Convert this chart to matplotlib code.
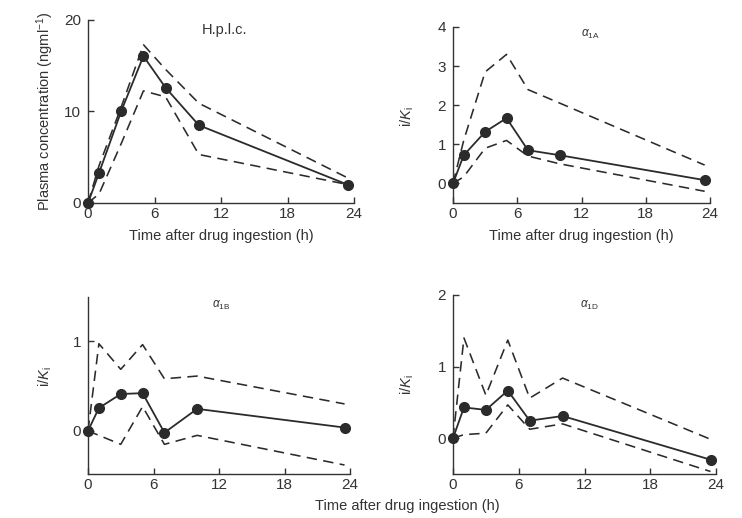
import matplotlib
matplotlib.use("Agg")
import matplotlib.pyplot as plt

plt.rcParams['font.family'] = ['Liberation Sans', 'DejaVu Sans']
plt.rcParams['mathtext.fontset'] = 'custom'
plt.rcParams['mathtext.rm'] = 'Liberation Sans'
plt.rcParams['mathtext.it'] = 'Liberation Sans:italic'

time_h = [0, 1, 3, 5, 7, 10, 23.5]

hplc_mean = [0, 3.3, 10.05, 16.05, 12.6, 8.5, 1.97]
hplc_upper = [0, 4.1, 10.5, 17.3, 14.6, 10.9, 2.7]
hplc_lower = [0, 1.0, 6.5, 12.25, 11.6, 5.3, 2.0]

a1a_mean = [0, 0.72, 1.32, 1.67, 0.85, 0.72, 0.085]
a1a_upper = [0, 1.1, 2.85, 3.3, 2.4, 2.05, 0.47]
a1a_lower = [0, 0.17, 0.9, 1.1, 0.7, 0.5, -0.2]

a1b_mean = [0, 0.255, 0.41, 0.42, -0.02, 0.245, 0.037]
a1b_upper = [0, 0.97, 0.685, 0.96, 0.58, 0.61, 0.3]
a1b_lower = [0, -0.05, -0.15, 0.27, -0.15, -0.05, -0.38]

a1d_mean = [0, 0.43, 0.395, 0.665, 0.245, 0.31, -0.3]
a1d_upper = [0, 1.4, 0.6, 1.37, 0.56, 0.84, -0.015]
a1d_lower = [0, 0.05, 0.07, 0.465, 0.125, 0.2, -0.465]

x_ticks = [0, 6, 12, 18, 24]

W, H = 742, 518
fig = plt.figure(figsize=(W / 100, H / 100), dpi=100)

def add_ax(left, right, top, bottom):
    return fig.add_axes([left / W, (H - bottom) / H, (right - left) / W, (bottom - top) / H])

panels = [
    dict(box=(88, 354, 20, 203), mean=hplc_mean, up=hplc_upper, lo=hplc_lower,
         ylim=(0, 20), yticks=[0, 10, 20], title='H.p.l.c.', tpos=(0.515, 0.945), tsize=10.5,
         ylabel='Plasma concentration (ngml$^{-1}$)', ylpos=(-0.12, 0.5), xlabel=True),
    dict(box=(453, 710, 27, 203), mean=a1a_mean, up=a1a_upper, lo=a1a_lower,
         ylim=(-0.5, 4), yticks=[0, 1, 2, 3, 4], title=r'$\alpha_{\rm 1A}$', tpos=(0.533, 0.955), tsize=8.5,
         ylabel=r'i/$K_{\rm i}$', ylpos=(-0.143, 0.49), xlabel=True),
    dict(box=(88, 350, 297, 474), mean=a1b_mean, up=a1b_upper, lo=a1b_lower,
         ylim=(-0.48, 1.49), yticks=[0, 1], title=r'$\alpha_{\rm 1B}$', tpos=(0.51, 0.955), tsize=8.5,
         ylabel=r'i/$K_{\rm i}$', ylpos=(-0.13, 0.55), xlabel=False),
    dict(box=(453, 716, 295, 474), mean=a1d_mean, up=a1d_upper, lo=a1d_lower,
         ylim=(-0.5, 2), yticks=[0, 1, 2], title=r'$\alpha_{\rm 1D}$', tpos=(0.52, 0.944), tsize=8.5,
         ylabel=r'i/$K_{\rm i}$', ylpos=(-0.14, 0.5), xlabel=False),
]

col = '#2b2b2b'
for p in panels:
    ax = add_ax(*p['box'])
    ax.plot(time_h, p['up'], color=col, lw=1.15, ls=(0, (6.5, 4)), clip_on=False)
    ax.plot(time_h, p['lo'], color=col, lw=1.15, ls=(0, (6.5, 4)), clip_on=False)
    ax.plot(time_h, p['mean'], color=col, lw=1.3, marker='o', ms=7, clip_on=False, zorder=5)
    ax.set_xlim(0, 24)
    ax.set_ylim(*p['ylim'])
    ax.set_xticks(x_ticks)
    ax.set_yticks(p['yticks'])
    for s in ['top', 'right']:
        ax.spines[s].set_visible(False)
    for s in ['left', 'bottom']:
        ax.spines[s].set_linewidth(1.0)
        ax.spines[s].set_color('#333333')
    ax.tick_params(direction='in', length=4, width=1.0, colors='#333333', labelsize=11,
                   labelcolor='#333333')
    ax.tick_params(axis='y', pad=5)
    ax.tick_params(axis='x', pad=3)
    ax.text(p['tpos'][0], p['tpos'][1], p['title'], transform=ax.transAxes,
            ha='center', va='center', fontsize=p['tsize'], color='#333333')
    ax.set_ylabel(p['ylabel'], fontsize=10.5, color='#333333')
    ax.yaxis.set_label_coords(*p['ylpos'])
    if p['xlabel']:
        ax.set_xlabel('Time after drug ingestion (h)', fontsize=10.5, color='#333333', labelpad=5.5)

fig.text(407 / W, 1 - 506 / H, 'Time after drug ingestion (h)', ha='center', va='center',
         fontsize=10.5, color='#333333')

fig.savefig('out.png', dpi=100)
